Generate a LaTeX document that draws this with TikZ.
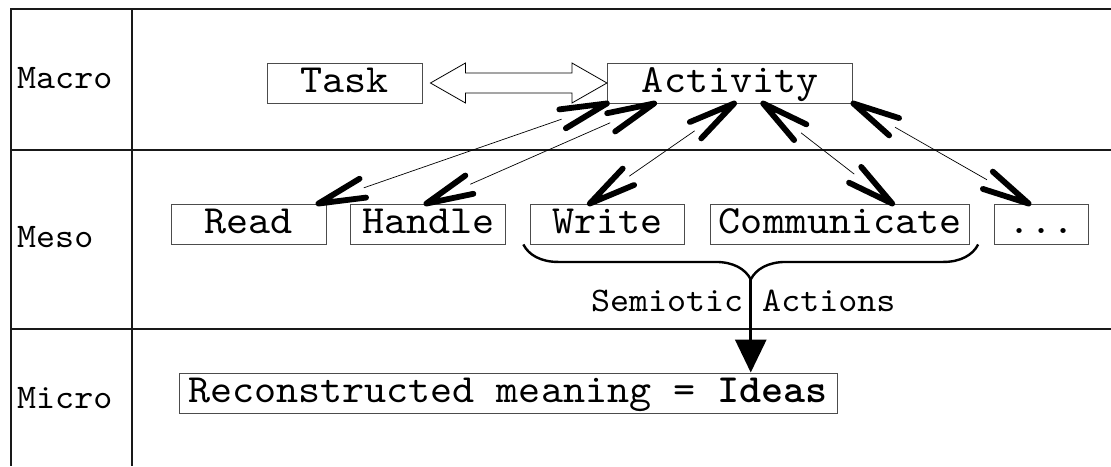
\documentclass[tikz,border=0pt]{standalone}
\usepackage{fontspec}
\newfontfamily\diagramfont{lmmono10-regular.otf}[FakeStretch=1.05, BoldFont=lmmonolt10-bold.otf]
\usepackage{tikz}
\usetikzlibrary{positioning}
\usetikzlibrary{calc}
\usetikzlibrary{arrows.meta}
\usetikzlibrary{decorations.pathreplacing}
\tikzset{	node distance=24pt,
	box/.style={
		draw=black!70,
		line width=0.9pt,
		minimum height=40pt,
		inner sep=0pt,
		text height=24.4pt,
		text depth=6pt,
		font=\diagramfont\fontsize{40}{44}\selectfont},
	level/.style={
		anchor=west,
		inner sep=0pt,
		font=\diagramfont\fontsize{34.5}{38}\selectfont},
	note/.style={
		inner sep=0pt,
		font=\diagramfont\fontsize{34.5}{38}\selectfont},
	rule/.style={draw=black!90, line width=1.2pt},
	link/.style={line width=0.7pt},
	barb/.style={line width=5.8pt, line cap=round, line join=round},
	hollow/.style={draw, line width=0.8pt, fill=white},
	brace/.style={
		decorate,
		decoration={brace, mirror, amplitude=35pt},
		line width=2.4pt},
	flow/.style={line width=3pt, -{Triangle[length=33pt, width=31pt]}}
}

\begin{document}
\begin{tikzpicture}[x=1pt, y=-1pt]
				\useasboundingbox (0,0) rectangle (1111,466);
				% table
				\draw[rule] (10,9) -- (1111,9);
				\draw[rule] (11,9) -- (11,466);
				\draw[rule] (132,9) -- (132,466);
				\draw[rule] (11,150) -- (1111,150);
				\draw[rule] (11,329) -- (1111,329);
				\node[level] (macro) at (17,78) {Macro};
				\node[level] (meso) at (17,237.5) {Meso};
				\node[level] (micro) at (17,398.5) {Micro};
				% macro level
				\node[box, minimum width=155pt] (task) at (344.5,83) {Task};
				\node[box, minimum width=245.5pt, right=184.5pt of task] (act) {Activity};
				% meso level
				\node[box, minimum width=155pt] (read) at (248.5,224) {Read};
				\node[box, minimum width=155pt, right=of read] (handle) {Handle};
				\node[box, minimum width=154pt, right=of handle] (write) {Write};
				\node[box, minimum width=259pt, right=25pt of write] (comm) {Communicate};
				\node[box, minimum width=94pt, right=of comm] (more) {...};
				% micro level
				\node[box, minimum width=658pt] (idea) at (508,393) {Reconstructed meaning = \textbf{Ideas}};
				% task <-> activity
				\coordinate (tl) at ([xshift=8pt]task.east);
				\draw[hollow] (tl) -- ++(35,-20) -- ++(0,10) -- ($(act.west)+(-35,-10)$) -- ++(0,-10) -- (act.west)
					-- ++(-35,20) -- ++(0,-10) -- ($(tl)+(35,10)$) -- ++(0,10) -- cycle;
				% activity <-> actions
				\coordinate (a1) at (act.south west);
				\coordinate (a2) at ([xshift=-76pt]act.south);
				\coordinate (a3) at ([xshift=4pt]act.south);
				\coordinate (a4) at ([xshift=33pt]act.south);
				\coordinate (a5) at (act.south east);
				\coordinate (r1) at ([xshift=-8pt]read.north east);
				\coordinate (h1) at ([xshift=-2pt]handle.north);
				\coordinate (w1) at ([xshift=-18pt]write.north);
				\coordinate (c1) at ([xshift=52pt]comm.north);
				\coordinate (m1) at ([xshift=-13pt]more.north);
				\draw[link] ($(r1)!48pt!(a1)$) -- ($(a1)!48pt!(r1)$);
				\draw[barb] ($(r1)!48pt!12:(a1)$) -- (r1) -- ($(r1)!48pt!-12:(a1)$);
				\draw[barb] ($(a1)!48pt!12:(r1)$) -- (a1) -- ($(a1)!48pt!-12:(r1)$);
				\draw[link] ($(h1)!48pt!(a2)$) -- ($(a2)!48pt!(h1)$);
				\draw[barb] ($(h1)!48pt!12:(a2)$) -- (h1) -- ($(h1)!48pt!-12:(a2)$);
				\draw[barb] ($(a2)!48pt!12:(h1)$) -- (a2) -- ($(a2)!48pt!-12:(h1)$);
				\draw[link] ($(w1)!48pt!(a3)$) -- ($(a3)!48pt!(w1)$);
				\draw[barb] ($(w1)!48pt!12:(a3)$) -- (w1) -- ($(w1)!48pt!-12:(a3)$);
				\draw[barb] ($(a3)!48pt!12:(w1)$) -- (a3) -- ($(a3)!48pt!-12:(w1)$);
				\draw[link] ($(c1)!48pt!(a4)$) -- ($(a4)!48pt!(c1)$);
				\draw[barb] ($(c1)!48pt!12:(a4)$) -- (c1) -- ($(c1)!48pt!-12:(a4)$);
				\draw[barb] ($(a4)!48pt!12:(c1)$) -- (a4) -- ($(a4)!48pt!-12:(c1)$);
				\draw[link] ($(m1)!48pt!(a5)$) -- ($(a5)!48pt!(m1)$);
				\draw[barb] ($(m1)!48pt!12:(a5)$) -- (m1) -- ($(m1)!48pt!-12:(a5)$);
				\draw[barb] ($(a5)!48pt!12:(m1)$) -- (a5) -- ($(a5)!48pt!-12:(m1)$);
				% semiotic actions -> ideas
				\draw[brace] ([xshift=-7pt]write.south west) -- coordinate (bm) ([xshift=8pt]comm.south east);
				\coordinate (bt) at ($(bm)+(0,35)$);
				\node[note] (sem) at ($(bt)+(-7.5,21)$) {Semiotic Actions};
				\draw[flow] (bt) -- (bt |- idea.north);
			\end{tikzpicture}
\end{document}
